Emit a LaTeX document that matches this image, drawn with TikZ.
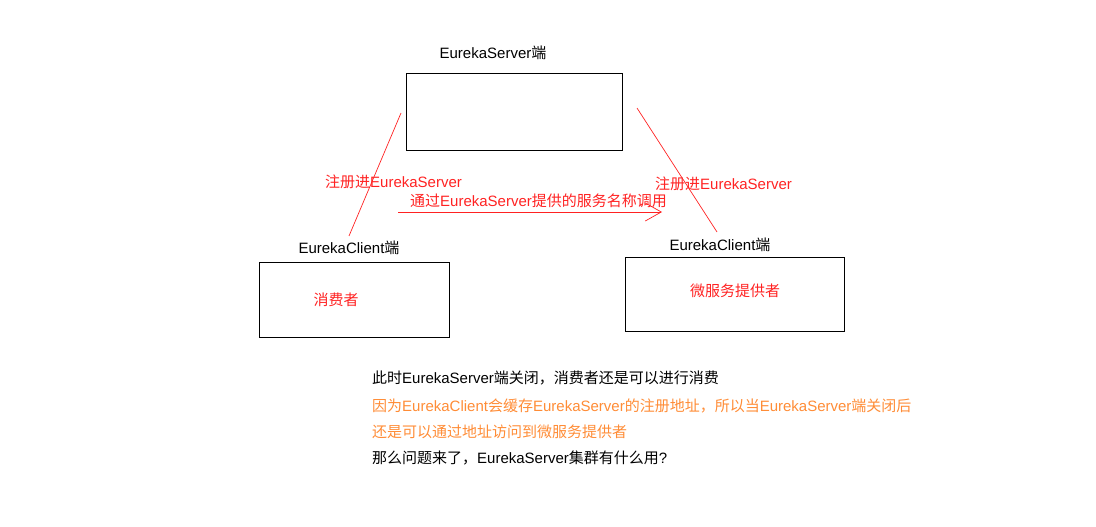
\documentclass[tikz,border=0pt]{standalone}
\usepackage{fontspec}
\setmainfont{Liberation Sans}
\newfontfamily\cjkfont{Noto Sans CJK SC}
\usetikzlibrary{arrows.meta}
\definecolor{NoteRed}{HTML}{FF2222}
\definecolor{NoteOrange}{HTML}{FF8C36}
% CJK characters switch to the CJK family
\XeTeXinterchartokenstate=1
\newXeTeXintercharclass\CjkClass
\newcount\cjkcode
\cjkcode="3000
\loop \XeTeXcharclass\cjkcode=\CjkClass \advance\cjkcode by 1 \ifnum\cjkcode<"A000 \repeat
\cjkcode="FF00
\loop \XeTeXcharclass\cjkcode=\CjkClass \advance\cjkcode by 1 \ifnum\cjkcode<"FFF0 \repeat
\XeTeXinterchartoks 0 \CjkClass = {\begingroup\cjkfont}
\XeTeXinterchartoks 4095 \CjkClass = {\begingroup\cjkfont}
\XeTeXinterchartoks \CjkClass 0 = {\endgroup}
\XeTeXinterchartoks \CjkClass 4095 = {\endgroup}

\begin{document}
\begin{tikzpicture}[x=1pt,y=-1pt,
    box/.style={draw,line width=0.9pt},
    txt/.style={inner sep=0pt,font=\fontsize{15}{18}\selectfont},
    redline/.style={draw=NoteRed,line width=0.7pt}]
    \useasboundingbox (0,0) rectangle (1096,527);
    % the three boxes
    \draw[box] (406,73) rectangle (622,150);
    \draw[box] (259,262) rectangle (449,337);
    \draw[box] (625,257) rectangle (844,331);
    \node[txt] (server) at (493,53) {EurekaServer端};
    \node[txt] (clientL) at (349,248) {EurekaClient端};
    \node[txt] (clientR) at (720,245) {EurekaClient端};
    \node[txt,text=NoteRed] (consumer) at (336,300) {消费者};
    \node[txt,text=NoteRed] (provider) at (735,291) {微服务提供者};
    % registration lines
    \coordinate (regLtop) at (401,113);
    \coordinate (regLbot) at (349,236);
    \coordinate (regRtop) at (637,108);
    \coordinate (regRbot) at (717,232);
    \draw[redline] (regLtop) -- (regLbot);
    \draw[redline] (regRtop) -- (regRbot);
    \node[txt,anchor=west,text=NoteRed] (regL) at (325,182) {注册进EurekaServer};
    \node[txt,anchor=west,text=NoteRed] (regR) at (655,184) {注册进EurekaServer};
    % call arrow
    \coordinate (callA) at (398,212);
    \coordinate (callB) at (662,212);
    \draw[redline,-{Straight Barb[length=16pt,width=18pt,line width=0.7pt]}] (callA) -- (callB);
    \node[txt,anchor=west,text=NoteRed] (call) at (410,201) {通过EurekaServer提供的服务名称调用};
    % notes
    \node[txt,anchor=west] (note1) at (372,378) {此时EurekaServer端关闭，消费者还是可以进行消费};
    \node[txt,anchor=west,text=NoteOrange] (note2) at (372,406) {因为EurekaClient会缓存EurekaServer的注册地址，所以当EurekaServer端关闭后};
    \node[txt,anchor=west,text=NoteOrange] (note3) at (372,432) {还是可以通过地址访问到微服务提供者};
    \node[txt,anchor=west] (note4) at (372,458) {那么问题来了，EurekaServer集群有什么用?};
\end{tikzpicture}
\end{document}
